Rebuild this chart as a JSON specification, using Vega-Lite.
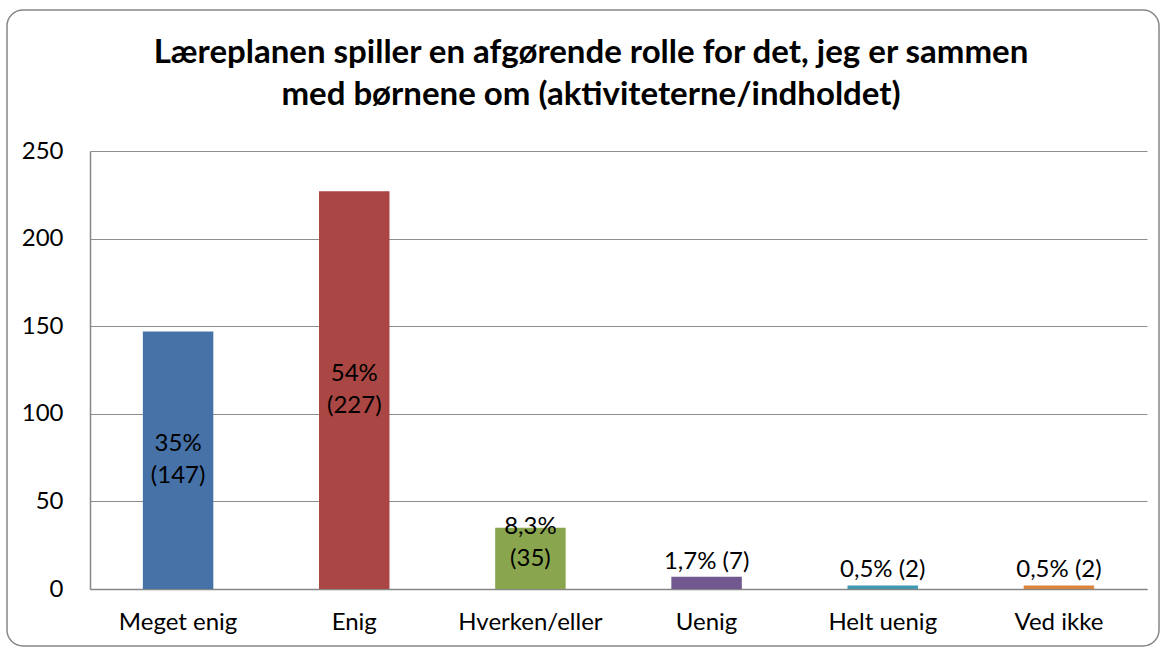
{
  "$schema": "https://vega.github.io/schema/vega-lite/v6.json",
  "width": 1152,
  "height": 636,
  "autosize": {"type": "none"},
  "padding": {"left": 7, "top": 10, "right": 2, "bottom": 4},
  "background": "white",
  "config": {
    "view": {"stroke": "#868686", "strokeWidth": 1.5, "cornerRadius": 16, "fill": "white"},
    "font": "Lato"
  },
  "title": {
    "text": ["Læreplanen spiller en afgørende rolle for det, jeg er sammen", "med børnene om (aktiviteterne/indholdet)"],
    "anchor": "middle",
    "frame": "group",
    "offset": -128,
    "dx": 8,
    "baseline": "alphabetic",
    "lineHeight": 42,
    "fontSize": 33,
    "font": "Lato",
    "fontWeight": "bold",
    "color": "black"
  },
  "data": {
    "values": [
      {"kategori": "Meget enig", "antal": 147, "label": "35%\n(147)"},
      {"kategori": "Enig", "antal": 227, "label": "54%\n(227)"},
      {"kategori": "Hverken/eller", "antal": 35, "label": "8,3%\n(35)"},
      {"kategori": "Uenig", "antal": 7, "label": "1,7% (7)"},
      {"kategori": "Helt uenig", "antal": 2, "label": "0,5% (2)"},
      {"kategori": "Ved ikke", "antal": 2, "label": "0,5% (2)"}
    ]
  },
  "encoding": {
    "x": {
      "field": "kategori",
      "type": "nominal",
      "sort": null,
      "title": null,
      "scale": {"range": [83, 1140], "paddingInner": 0.6, "paddingOuter": 0.3},
      "axis": {
        "orient": "bottom",
        "offset": -57,
        "ticks": false,
        "tickSize": 0,
        "labelAngle": 0,
        "labelBaseline": "alphabetic",
        "labelPadding": 40,
        "labelFontSize": 24,
        "labelColor": "black",
        "domainColor": "#868686",
        "domainWidth": 1.5,
        "grid": false
      }
    }
  },
  "layer": [
    {
      "mark": {"type": "bar"},
      "encoding": {
        "y": {
          "field": "antal",
          "type": "quantitative",
          "title": null,
          "scale": {"domain": [0, 250], "nice": false, "range": [579, 141]},
          "axis": {
            "orient": "left",
            "offset": -83,
            "values": [0, 50, 100, 150, 200, 250],
            "ticks": false,
            "tickSize": 0,
            "labelPadding": 27,
            "labelFontSize": 24,
            "labelColor": "black",
            "domainColor": "#868686",
            "domainWidth": 1.5,
            "grid": true,
            "gridColor": "#8e8e8e",
            "gridWidth": 1.2
          }
        },
        "color": {
          "field": "kategori",
          "type": "nominal",
          "legend": null,
          "scale": {
            "domain": ["Meget enig", "Enig", "Hverken/eller", "Uenig", "Helt uenig", "Ved ikke"],
            "range": ["#4672A7", "#AA4643", "#89A54E", "#71588F", "#4198AF", "#DB843D"]
          }
        }
      }
    },
    {
      "transform": [
        {"filter": "datum.antal >= 20"},
        {"calculate": "max(datum.antal / 2, 26)", "as": "midt"}
      ],
      "mark": {"type": "text", "fontSize": 24, "lineBreak": "\n", "lineHeight": 32, "baseline": "middle", "align": "center", "dy": -16, "color": "black"},
      "encoding": {
        "y": {"field": "midt", "type": "quantitative", "title": null},
        "text": {"field": "label"}
      }
    },
    {
      "transform": [{"filter": "datum.antal < 20"}],
      "mark": {"type": "text", "fontSize": 24, "baseline": "bottom", "dy": -3, "align": "center", "color": "black"},
      "encoding": {
        "y": {"field": "antal", "type": "quantitative", "title": null},
        "text": {"field": "label"}
      }
    }
  ]
}
